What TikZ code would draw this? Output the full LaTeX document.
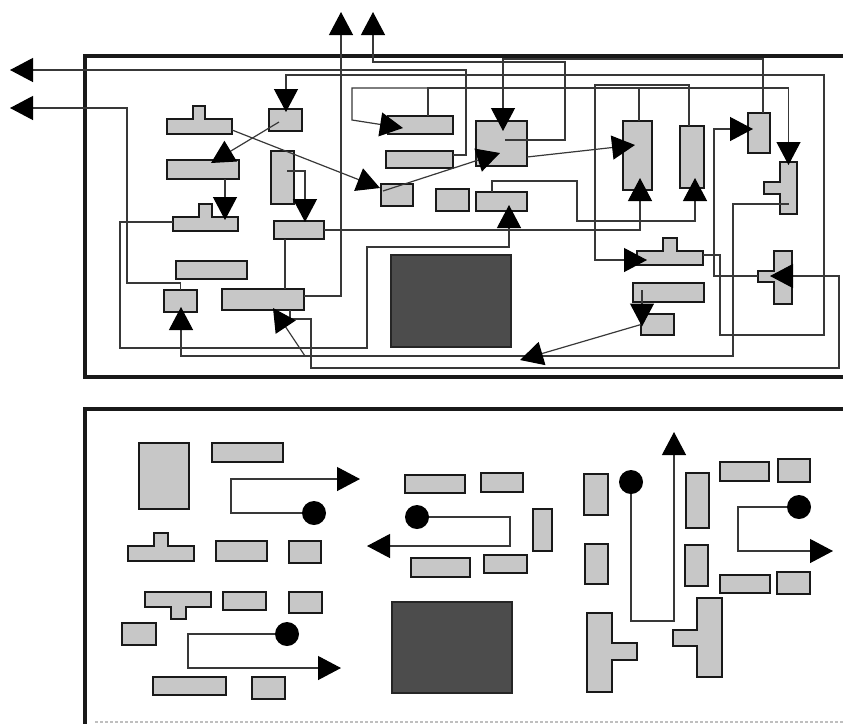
\documentclass[tikz,border=0pt]{standalone}
\usepackage{xcolor}
\usepackage{tikz}
\usetikzlibrary{arrows.meta, shapes.geometric, positioning}
\definecolor{cellgray}{gray}{0.78}
\definecolor{blockgray}{gray}{0.30}
\definecolor{wiregray}{gray}{0.22}
\tikzstyle{cell}  = [rectangle, draw=black!90, line width=1.9pt, fill=cellgray, inner sep=0pt, outer sep=0pt, line join=miter]
\tikzstyle{block} = [rectangle, draw=black!85, line width=1.2pt, fill=blockgray, inner sep=0pt, outer sep=0pt]
\tikzstyle{tbar}  = [rectangle, inner sep=0pt, outer sep=0pt]
\tikzstyle{dot}   = [circle, fill=black, inner sep=0pt, outer sep=0pt, minimum size=24pt]
\tikzstyle{frame} = [black!90, line width=3.2pt]
\tikzstyle{wire}  = [wiregray, line width=1.2pt]
\tikzstyle{arrow} = [wire, ->, >={Triangle[length=23pt, width=24pt, color=black]}]

\begin{document}
\begin{tikzpicture}[x=1pt, y=-1pt]
    \useasboundingbox (0,0) rectangle (843,724);

    \draw [frame] (843,56) -- (85,56) -- (85,377) -- (843,377);
    \draw [frame] (843,409) -- (85,409) -- (85,724);
    \draw [black!25, line width=1.5pt, densely dashed] (95,722) -- (843,722);

    \node (b1)  [cell, minimum width=33, minimum height=22] at (285.5,120) {};
    \node (b2)  [cell, minimum width=72, minimum height=19] at (203,169.5) {};
    \node (v1)  [cell, minimum width=23, minimum height=53] at (282.5,177.5) {};
    \node (b3)  [cell, minimum width=50, minimum height=18] at (299,230) {};
    \node (b4)  [cell, minimum width=71, minimum height=18] at (211.5,270) {};
    \node (b5)  [cell, minimum width=33, minimum height=22] at (180.5,301) {};
    \node (b6)  [cell, minimum width=82, minimum height=21] at (263,299.5) {};
    \node (b7)  [cell, minimum width=32, minimum height=22] at (397,195) {};
    \node (b8)  [cell, minimum width=67, minimum height=17] at (419.5,159.5) {};
    \node (b9)  [cell, minimum width=65, minimum height=18] at (420.5,125) {};
    \node (sq)  [cell, minimum width=51, minimum height=45] at (501.5,143.5) {};
    \node (b10) [cell, minimum width=33, minimum height=22] at (452.5,200) {};
    \node (b11) [cell, minimum width=51, minimum height=19] at (501.5,201.5) {};
    \node (v2)  [cell, minimum width=29, minimum height=69] at (637.5,155.5) {};
    \node (v3)  [cell, minimum width=24, minimum height=62] at (692,157) {};
    \node (v4)  [cell, minimum width=22, minimum height=40] at (759,133) {};
    \node (b12) [cell, minimum width=71, minimum height=19] at (668.5,292.5) {};
    \node (b13) [cell, minimum width=33, minimum height=21] at (657.5,324.5) {};
    \node (core1) [block, minimum width=120, minimum height=92] at (451,301) {};

    \draw [cell] (167,134) -- (167,119) -- (193,119) -- (193,106) -- (205,106) -- (205,119) -- (232,119) -- (232,134) -- cycle;
    \draw [cell] (173,231) -- (173,217) -- (199,217) -- (199,204) -- (212,204) -- (212,217) -- (238,217) -- (238,231) -- cycle;
    \draw [cell] (780,162) -- (797,162) -- (797,214) -- (780,214) -- (780,194) -- (764,194) -- (764,182) -- (780,182) -- cycle;
    \draw [cell] (774,251) -- (792,251) -- (792,304) -- (774,304) -- (774,282) -- (758,282) -- (758,271) -- (774,271) -- cycle;
    \draw [cell] (637,265) -- (637,251) -- (663,251) -- (663,238) -- (677,238) -- (677,251) -- (703,251) -- (703,265) -- cycle;
    \node (t1) [tbar, minimum width=65, minimum height=15] at (199.5,126.5) {};
    \node (t2) [tbar, minimum width=65, minimum height=14] at (205.5,224) {};
    \node (t3) [tbar, minimum width=17, minimum height=52] at (788.5,188) {};
    \node (t4) [tbar, minimum width=18, minimum height=53] at (783,277.5) {};
    \node (t5) [tbar, minimum width=66, minimum height=14] at (670,258) {};

    \coordinate (e1) at (10,70);
    \coordinate (e2) at (10,108);
    \coordinate (e3) at (341,12);
    \coordinate (e4) at (373,12);
    \coordinate (j1) at (428,88);
    \coordinate (j2) at (305,356);
    \coordinate (j3) at (520,360);

    \draw [arrow] ([yshift=4.5pt]b8.east) -- (466,155) -- (466,70) -- (e1);
    \draw [arrow] (b5.north) -- (180.5,283) -- (127,283) -- (127,108) -- (e2);
    \draw [arrow] ([yshift=3.5pt]b6.east) -| (e3);
    \draw [arrow] ([shift={(3.5,-3.5)}]sq.center) -- (565,140) -- (565,62) -- (373,62) -- (e4);
    \draw [arrow] ([xshift=4pt]v4.north) -- (763,59) -- (503,59) -- ([shift={(1.5,-12.5)}]sq.center);
    \draw [arrow] ([yshift=3pt]t5.east) -- (720,255) -- (720,335) -- (824,335) -- (824,75) -- (286,75) -- ([shift={(0.5,3)}]b1.north);
    \draw [arrow] (j1) -- (352,88) -- (352,120) -- ([shift={(15,3)}]b9.west);
    \draw [arrow] ([xshift=7.5pt]b9.north) -- (j1) -- (788.5,88) -- ([yshift=-3pt]t3.north);
    \draw [wire]  ([xshift=1.5pt]v2.north) -- (639,88);
    \draw [arrow] ([yshift=-3.5pt]t1.east) -- ([shift={(-1,-7)}]b7.west);
    \draw [arrow] ([shift={(2,-4)}]b7.west) -- ([shift={(-1.5,9.5)}]sq.center);
    \draw [arrow] ([yshift=-13.5pt]sq.east) -- ([shift={(-2.5,-10.5)}]v2.center);
    \draw [arrow] ([shift={(-6.5,2)}]b1.center) -- ([shift={(8,3)}]b2.north);
    \draw [arrow] ([xshift=22pt]b2.south) -- ([shift={(19.5,3)}]t2.north);
    \draw [arrow] ([shift={(4.5,-6.5)}]v1.center) -- (305,171) -- ([shift={(6,1)}]b3.north);
    \draw [arrow] (b3.east) -| ([shift={(2.5,-12)}]v2.south);
    \draw [wire]  ([xshift=-14pt]b3.south) -- ([xshift=22pt]b6.north);
    \draw [arrow] ([yshift=2pt]t2.west) -- (120,222) -- (120,348) -- (367,348) -- (367,247) -- (509,247) -- ([shift={(7.5,-6)}]b11.south);
    \draw [arrow] ([yshift=-16pt]t3.center) -- (733,204) -- (733,356) -- (181,356) -- ([shift={(0.5,-5)}]b5.south);
    \draw [arrow] ([xshift=27pt]b6.south) -- (290,319) -- (311,319) -- (311,368) -- (839,368) -- (839,276) -- ([shift={(-4,-1.5)}]t4.west);
    \draw [arrow] (j2) -- ([shift={(10,-2)}]b6.south);
    \draw [arrow] ([xshift=-3pt]v3.north) -- (689,85) -- (595,85) -- (595,260) -- ([shift={(10,2)}]t5.west);
    \draw [arrow] ([shift={(-16,-1.5)}]t4.west) -- (714,276) -- (714,129) -- ([shift={(5,-4)}]v4.west);
    \draw [arrow] ([xshift=-9.5pt]b11.north) -- (492,181) -- (577,181) -- (577,221) -- (695,221) -- ([shift={(3,-10)}]v3.south);
    \draw [arrow] ([shift={(-26.5,-2.5)}]b12.center) -- ([shift={(-15.5,2)}]b13.center);
    \draw [arrow] (b13.west) -- (j3);

    \node (p1)  [cell, minimum width=50, minimum height=66] at (164,476) {};
    \node (p2)  [cell, minimum width=71, minimum height=19] at (247.5,452.5) {};
    \node (p3)  [cell, minimum width=51, minimum height=20] at (241.5,551) {};
    \node (p4)  [cell, minimum width=32, minimum height=22] at (305,552) {};
    \node (p5)  [cell, minimum width=43, minimum height=18] at (244.5,601) {};
    \node (p6)  [cell, minimum width=33, minimum height=21] at (305.5,602.5) {};
    \node (p7)  [cell, minimum width=34, minimum height=22] at (139,634) {};
    \node (p8)  [cell, minimum width=73, minimum height=18] at (189.5,686) {};
    \node (p9)  [cell, minimum width=33, minimum height=22] at (268.5,688) {};
    \node (p10) [cell, minimum width=60, minimum height=18] at (435,484) {};
    \node (p11) [cell, minimum width=59, minimum height=19] at (440.5,567.5) {};
    \node (p12) [cell, minimum width=42, minimum height=19] at (502,482.5) {};
    \node (p13) [cell, minimum width=43, minimum height=18] at (505.5,564) {};
    \node (p14) [cell, minimum width=19, minimum height=42] at (542.5,530) {};
    \node (p15) [cell, minimum width=24, minimum height=41] at (596,494.5) {};
    \node (p16) [cell, minimum width=23, minimum height=40] at (596.5,564) {};
    \node (p17) [cell, minimum width=23, minimum height=55] at (697.5,500.5) {};
    \node (p18) [cell, minimum width=23, minimum height=41] at (696.5,565.5) {};
    \node (p19) [cell, minimum width=49, minimum height=19] at (744.5,471.5) {};
    \node (p20) [cell, minimum width=32, minimum height=23] at (794,470.5) {};
    \node (p21) [cell, minimum width=50, minimum height=18] at (745,584) {};
    \node (p22) [cell, minimum width=33, minimum height=22] at (793.5,583) {};
    \node (core2) [block, minimum width=120, minimum height=91] at (452,647.5) {};

    \draw [cell] (128,561) -- (128,546) -- (154,546) -- (154,533) -- (168,533) -- (168,546) -- (194,546) -- (194,561) -- cycle;
    \draw [cell] (145,592) -- (211,592) -- (211,607) -- (186,607) -- (186,619) -- (171,619) -- (171,607) -- (145,607) -- cycle;
    \draw [cell] (587,613) -- (612,613) -- (612,643) -- (637,643) -- (637,660) -- (612,660) -- (612,692) -- (587,692) -- cycle;
    \draw [cell] (697,598) -- (722,598) -- (722,677) -- (697,677) -- (697,646) -- (673,646) -- (673,630) -- (697,630) -- cycle;

    \node (d1) [dot] at (314,513) {};
    \node (d2) [dot] at (287,634) {};
    \node (d3) [dot] at (417,517) {};
    \node (d4) [dot] at (631,482) {};
    \node (d5) [dot] at (799,507) {};
    \coordinate (e5) at (360,479);
    \coordinate (e6) at (341,668);
    \coordinate (e7) at (367,546);
    \coordinate (e8) at (674,432);
    \coordinate (e9) at (833,551);

    \draw [arrow] (d1) -- (231,513) -- (231,479) -- (e5);
    \draw [arrow] (d2) -- (188,634) -- (188,668) -- (e6);
    \draw [arrow] (d3) -- (510,517) -- (510,546) -- (e7);
    \draw [arrow] (d4) -- (631,621) -- (674,621) -- (e8);
    \draw [arrow] (d5) -- (738,507) -- (738,551) -- (e9);
\end{tikzpicture}
\end{document}
